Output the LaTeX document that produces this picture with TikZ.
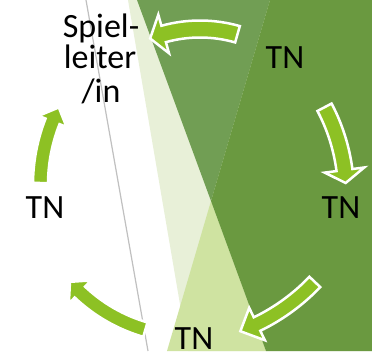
\documentclass[tikz,border=0pt]{standalone}
\usepackage{fontspec}
\setmainfont{Carlito}
\usetikzlibrary{calc}
\definecolor{pale}{RGB}{232,240,216}
\definecolor{midg}{RGB}{113,158,84}
\definecolor{darkg}{RGB}{106,153,64}
\definecolor{lightg}{RGB}{207,227,161}
\definecolor{arrg}{RGB}{141,193,36}
\definecolor{greyline}{RGB}{192,192,192}
\tikzset{
  arr/.style={fill=arrg, draw=white, line width=2.5pt},
  lbl/.style={anchor=base, inner sep=0pt, font=\fontsize{34}{33}\selectfont, text=black}
}
\newcommand\cycarrow[8]{%
\begin{scope}[shift={(#1,#2)}]
\filldraw[arr] (#4:{#3+#7}) arc[start angle=#4, end angle=#5, radius={#3+#7}]
  -- (#5:{#3+#8}) -- (#6:#3) -- (#5:{#3-#8}) -- (#5:{#3-#7})
  arc[start angle=#5, end angle=#4, radius={#3-#7}] -- cycle;
\end{scope}}
\begin{document}
\begin{tikzpicture}[x=1pt,y=-1pt]
\useasboundingbox (0,0) rectangle (372,351);
\fill[white] (0,0) rectangle (372,351);
% background facets
\draw[greyline, line width=1.2pt] (86,0) -- (148,351);
\fill[pale] (128,0) -- (188,351) -- (372,351) -- (372,0) -- cycle;
\fill[lightg] (211,201) -- (167,351) -- (266,351) -- cycle;
\fill[midg] (137,0) -- (211,201) -- (270,0) -- cycle;
\fill[darkg] (270,0) -- (211,201) -- (266,351) -- (372,351) -- (372,0) -- cycle;
% labels
\node[lbl] (sl1) at (101,37) {Spiel-};
\node[lbl] (sl2) at (100,68) {leiter};
\node[lbl] (sl3) at (101,102) {/in};
\node[lbl] (tn1) at (285,68) {TN};
\node[lbl] (tn2) at (341,218) {TN};
\node[lbl] (tn3) at (194,349) {TN};
\node[lbl] (tn4) at (45,218) {TN};
% arrows
\cycarrow{200}{165}{136}{-74}{-105.5}{-111.5}{8.5}{20}
\cycarrow{160}{194}{186}{-27.8}{-7.4}{-3.4}{8}{20}
\cycarrow{170}{144}{200}{43.6}{64.2}{69.4}{7.5}{18}
\cycarrow{190}{176}{160}{106.2}{133.5}{138.6}{7.5}{16}
\cycarrow{212}{184.5}{171.5}{180.5}{201.6}{206.7}{7.5}{15}
\end{tikzpicture}
\end{document}
